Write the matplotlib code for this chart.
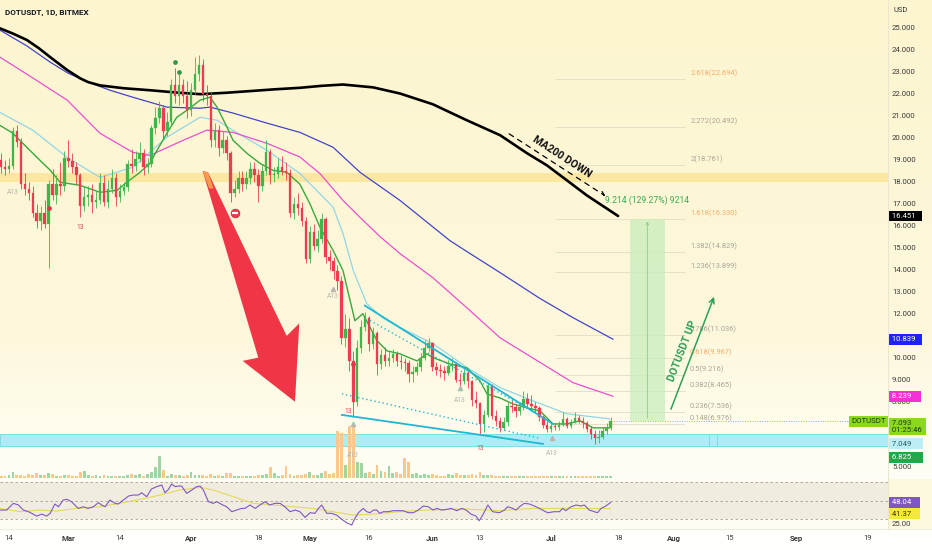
import numpy as np
import matplotlib
matplotlib.use("Agg")
import matplotlib.pyplot as plt
import matplotlib.transforms as mtrans
from matplotlib.patches import Polygon, Rectangle, FancyArrowPatch
from matplotlib.lines import Line2D
from matplotlib.colors import to_rgb

plt.rcParams['font.family'] = ['Roboto', 'DejaVu Sans']

W, H = 932, 550
start = np.datetime64('2022-02-12')

# daily candles, Feb 12 .. Jul 16 (open = previous close)
first_open = 19.0
closes = [18.7, 18.6, 18.75, 20.3, 19.8, 17.9, 17.7, 17.5, 16.6, 16.2,
          16.6, 16.1, 17.9, 17.4, 17.9, 17.8, 19.1, 18.95, 18.7, 18.3,
          16.9, 17.3, 17.4, 17.1, 17.2, 17.95, 17.1, 17.7, 18.2, 17.3,
          17.6, 17.75, 18.8, 18.75, 19.05, 19.3, 18.7, 18.8, 20.45, 20.9,
          21.35, 20.3, 20.75, 22.4, 21.9, 22.4, 21.9, 21.3, 22.2, 22.9,
          23.35, 22.0, 21.9, 19.9, 20.35, 19.55, 19.9, 19.3, 17.5, 17.7,
          18.2, 17.9, 18.2, 18.6, 18.3, 17.8, 18.5, 19.35, 18.3, 18.35,
          18.7, 18.5, 18.4, 16.6, 17.0, 16.8, 16.2, 14.5, 15.7, 15.1,
          15.4, 16.3, 14.6, 14.4, 13.95, 13.5, 10.9, 11.3, 9.85, 8.0,
          10.45, 11.4, 11.8, 10.6, 11.1, 9.7, 10.1, 9.85, 10.0, 10.15,
          9.85, 9.8, 9.75, 9.25, 9.35, 9.55, 10.0, 10.45, 10.65, 9.55,
          9.45, 9.4, 9.3, 9.6, 9.7, 9.0, 8.95, 9.3, 8.95, 8.05,
          7.95, 6.96, 7.4, 8.7, 7.35, 7.1, 6.8, 7.05, 7.8, 7.75,
          7.55, 7.75, 8.1, 7.9, 7.8, 7.7, 7.3, 6.95, 6.75, 6.9,
          6.85, 6.95, 7.2, 6.9, 7.05, 7.25, 7.1, 7.0, 6.75, 6.5,
          6.35, 6.4, 6.65, 6.8, 7.093]
highs = [19.3, 19.0, 19.1, 20.5, 20.6, 20.0, 18.4, 18.0, 17.8, 17.0,
         16.9, 17.2, 18.1, 18.6, 18.3, 18.9, 19.4, 19.9, 19.3, 18.9,
         18.4, 17.8, 17.8, 17.9, 17.6, 18.4, 18.3, 18.1, 18.6, 18.4,
         17.9, 18.0, 19.0, 19.5, 19.4, 19.8, 19.5, 19.1, 20.6, 21.4,
         21.7, 21.5, 21.2, 22.7, 23.2, 22.9, 22.7, 22.6, 22.5, 23.7,
         23.8, 23.6, 22.4, 22.1, 20.7, 20.6, 20.3, 20.1, 19.4, 18.1,
         18.5, 18.5, 18.5, 18.9, 18.9, 18.6, 18.8, 19.9, 19.5, 18.7,
         19.1, 19.2, 18.9, 18.6, 17.3, 17.5, 17.1, 16.4, 16.0, 16.1,
         15.8, 16.6, 16.4, 14.9, 14.6, 14.2, 13.7, 12.0, 11.8, 10.3,
         10.8, 11.7, 12.1, 11.9, 11.4, 11.2, 10.4, 10.5, 10.3, 10.4,
         10.3, 10.1, 10.0, 9.9, 9.6, 9.8, 10.2, 10.8, 10.9, 10.7,
         9.8, 9.7, 9.6, 9.9, 10.0, 9.8, 9.3, 9.5, 9.4, 9.0,
         8.5, 8.0, 7.6, 8.9, 8.8, 7.6, 7.3, 7.3, 8.0, 8.1,
         7.9, 8.0, 8.5, 8.4, 8.3, 8.0, 7.8, 7.4, 7.1, 7.1,
         7.0, 7.1, 7.5, 7.3, 7.2, 7.5, 7.4, 7.3, 7.1, 6.9,
         6.7, 6.7, 6.8, 7.0, 7.3]
lows = [18.4, 18.3, 18.4, 18.6, 19.6, 17.7, 17.4, 17.2, 16.4, 15.9,
        15.8, 15.9, 14.1, 17.2, 17.0, 17.4, 17.6, 18.7, 18.4, 17.9,
        16.4, 16.7, 16.9, 16.6, 16.8, 17.0, 16.9, 16.8, 17.5, 16.9,
        17.1, 17.4, 17.6, 18.4, 18.5, 18.9, 18.3, 18.4, 18.7, 20.2,
        20.7, 20.0, 20.1, 20.6, 21.6, 21.5, 21.6, 20.9, 21.0, 22.0,
        22.6, 21.7, 21.5, 19.6, 19.6, 19.2, 19.3, 19.0, 17.1, 17.3,
        17.5, 17.6, 17.7, 17.9, 18.0, 17.1, 17.6, 18.3, 17.9, 18.0,
        18.2, 18.3, 18.1, 16.4, 16.3, 16.5, 16.0, 14.3, 14.3, 14.9,
        14.8, 15.2, 14.3, 14.0, 13.6, 13.1, 10.6, 10.5, 9.4, 7.3,
        7.8, 10.2, 11.2, 10.3, 10.4, 9.2, 9.5, 9.6, 9.6, 9.8,
        9.6, 9.5, 9.4, 8.9, 8.9, 9.2, 9.4, 9.9, 10.3, 9.4,
        9.2, 9.1, 9.0, 9.2, 9.4, 8.9, 8.7, 8.8, 8.6, 7.8,
        7.7, 6.5, 6.6, 7.3, 7.2, 6.9, 6.6, 6.7, 6.9, 7.5,
        7.3, 7.4, 7.6, 7.7, 7.6, 7.5, 7.1, 6.8, 6.6, 6.6,
        6.7, 6.7, 6.9, 6.8, 6.8, 7.0, 7.0, 6.8, 6.6, 6.3,
        6.05, 6.1, 6.3, 6.5, 6.7]
volumes = [2, 2, 3, 6, 3, 3, 2, 4, 3, 5,
           3, 3, 5, 4, 2, 2, 3, 3, 2, 2,
           6, 7, 3, 2, 3, 2, 3, 2, 2, 2,
           2, 2, 3, 4, 3, 4, 2, 4, 6, 11,
           22, 8, 2, 4, 3, 3, 2, 3, 6, 3,
           3, 3, 2, 4, 2, 3, 2, 5, 5, 2,
           2, 2, 2, 2, 2, 3, 3, 4, 11, 5,
           2, 3, 12, 4, 2, 3, 3, 4, 6, 3,
           3, 5, 7, 4, 5, 47, 45, 13, 52, 54,
           16, 15, 5, 6, 4, 13, 7, 6, 12, 5,
           6, 4, 20, 16, 4, 5, 3, 4, 3, 4,
           3, 2, 2, 4, 3, 5, 3, 3, 3, 4,
           3, 6, 3, 3, 3, 2, 2, 2, 2, 2,
           2, 2, 2, 2, 2, 2, 2, 2, 2, 2,
           2, 2, 2, 2, 2, 2, 2, 2, 2, 2,
           2, 2, 2, 2, 2]

# moving averages (day offset, price)
ma200_day = [-0.3, 3.0, 6.5, 9.5, 12.4, 16.7, 20.0, 22.0, 25.0, 31.0, 37.6, 44.0, 50.3, 56.5, 62.9,
             69.0, 75.5, 81.0, 86.4, 94.0, 100.8, 109.1, 117.7, 126.1, 132.9, 137.9, 143.0,
             148.0, 155.9]
ma200_val = [25.0, 24.76, 24.47, 24.1, 23.69, 23.1, 22.72, 22.55, 22.4, 22.27, 22.18, 22.08, 22.0,
             22.06, 22.14, 22.22, 22.29, 22.38, 22.44, 22.31, 22.03, 21.54, 20.81, 20.13, 19.31,
             18.76, 18.07, 17.39, 16.451]
ma_blue_day = [-0.3, 6.5, 12.4, 17.0, 22.0, 27.5, 33.3, 41.9, 50.3, 52.8, 58.6, 67.2, 75.5, 83.9,
               90.7, 100.8, 113.4, 117.7, 126.1, 136.2, 144.5, 154.6]
ma_blue_val = [24.92, 24.2, 23.46, 22.95, 22.55, 22.18, 21.86, 21.41, 21.36, 21.41, 21.14, 20.68,
               20.26, 19.58, 18.44, 17.16, 15.33, 14.83, 13.87, 12.69, 11.82, 10.839]
ma_pink_day = [-0.3, 8.1, 16.7, 25.0, 33.3, 37.6, 46.0, 52.0, 58.6, 67.2, 75.5,
               80.6, 86.4, 90.7, 95.7, 100.8, 109.1, 117.7, 126.1, 136.2, 144.5, 154.6]
ma_pink_val = [23.69, 22.73, 21.73, 20.22, 19.35, 19.21, 19.9, 20.36, 20.26, 19.76, 19.14,
               18.38, 17.16, 16.39, 15.52, 14.74, 13.64, 12.27, 10.9, 9.78, 8.86, 8.239]
ma_cyan_day = [-0.3, 8.1, 16.7, 25.0, 33.3, 41.9, 50.3, 54.6, 58.6, 67.2, 75.5, 83.9,
               86.4, 89.0, 92.4, 96.5, 100.8, 109.1, 117.7, 126.1, 134.4, 143.0, 153.8]
ma_cyan_val = [21.17, 20.35, 19.12, 18.21, 18.67, 20.04, 20.95, 20.81, 20.35, 19.44, 18.39, 16.85,
               15.65, 13.96, 12.46, 11.8, 11.37, 10.64, 9.55, 8.63, 8.03, 7.44, 7.21]
trail_day = [-0.3, 3.0, 6.5, 9.8, 12.4, 14.9, 19.9, 25.0, 29.3, 31.8, 35.1, 37.6, 39.4,
             41.9, 44.4, 47.0, 50.3, 52.8, 54.6, 57.1, 58.6, 62.1, 65.4, 68.7, 72.2, 75.5,
             78.0, 80.6, 83.9, 86.4, 88.2, 89.4, 91.4, 95.0, 97.5, 100.8, 105.1, 107.6,
             109.1, 113.4, 117.7, 121.0, 122.8, 126.1, 129.3, 132.9, 136.2, 139.4, 143.0,
             146.3, 149.6, 153.8]
trail_val = [20.58, 20.22, 19.58, 18.99, 18.54, 17.99, 17.85, 17.53, 17.62, 17.99, 18.44, 18.85, 19.44,
             20.22, 20.95, 21.27, 21.73, 21.86, 21.4, 20.49, 19.9, 19.31, 18.85, 18.53, 18.44, 17.9,
             17.02, 15.93, 14.88, 13.96, 12.59, 11.68, 12.0, 10.77, 10.31, 10.17, 9.85, 10.17,
             10.0, 9.71, 9.53, 8.94, 8.34, 8.16, 7.89, 7.71, 7.57, 6.98, 6.98,
             7.12, 6.8, 6.8]

# RSI pane
rsi_day = [-0.3, 1.4, 3.1, 4.4, 5.6, 6.9, 8.1, 9.0, 10.3, 11.5,
           12.4, 13.6, 14.5, 15.7, 16.6, 17.8, 19.5, 20.8, 22.0, 23.3,
           24.6, 25.4, 26.3, 27.5, 28.8, 29.6, 30.9, 32.2, 33.4, 34.7,
           35.5, 36.8, 38.0, 39.3, 40.6, 41.4, 42.3, 43.1, 44.0, 44.8,
           45.6, 46.9, 48.2, 49.4, 50.3, 51.1, 52.4, 53.6, 54.5, 55.7,
           57.0, 58.3, 59.5, 60.8, 61.6, 62.9, 64.2, 65.4, 66.7, 67.9,
           69.2, 70.5, 71.7, 73.0, 74.3, 75.5, 76.8, 78.1, 79.3, 80.2,
           81.0, 82.3, 83.5, 84.8, 86.1, 87.3, 88.6, 89.4, 90.3, 91.5,
           92.4, 93.2, 94.1, 94.9, 95.7, 96.6, 97.8, 99.1, 100.4, 101.6,
           102.9, 104.2, 105.4, 106.7, 107.9, 109.2, 110.1, 111.3, 112.6, 113.8,
           115.1, 116.4, 117.5, 118.7, 120.0, 120.8, 121.7, 123.0, 124.2, 125.9,
           127.2, 128.0, 129.3, 130.1, 131.0, 132.2, 133.5, 135.2, 136.8, 138.1,
           139.8, 141.1, 141.9, 142.7, 144.0, 145.3, 146.5, 147.4, 148.6, 149.9,
           150.7, 151.6, 152.8, 154.0]
rsi_val = [39.8, 39.8, 47.1, 45.3, 39.8, 38.0, 35.4, 33.2, 35.4, 33.2,
           36.2, 46.4, 43.4, 50.7, 51.5, 48.9, 41.6, 43.4, 41.6, 43.4,
           47.8, 45.3, 43.4, 50.7, 47.1, 46.4, 50.7, 55.1, 56.2, 56.2,
           58.7, 54.4, 62.8, 65.3, 67.1, 58.7, 62.4, 68.2, 65.3, 66.0,
           66.0, 58.0, 61.7, 65.3, 66.0, 61.7, 48.9, 47.1, 48.9, 46.0,
           43.4, 38.0, 39.8, 41.6, 41.6, 45.3, 41.6, 45.3, 48.9, 45.3,
           47.1, 47.1, 43.4, 38.0, 39.8, 38.0, 31.8, 36.9, 36.2, 41.6,
           45.3, 36.2, 36.2, 34.3, 29.6, 26.0, 23.4, 30.7, 36.9, 41.6,
           38.0, 36.9, 39.8, 39.8, 36.2, 38.0, 38.0, 39.1, 39.1, 39.1,
           36.9, 36.9, 39.8, 44.2, 43.4, 39.8, 41.6, 39.8, 40.5, 41.6,
           39.1, 41.6, 39.8, 35.4, 33.2, 28.1, 34.3, 45.3, 38.0, 36.9,
           39.8, 43.4, 41.6, 39.8, 43.4, 47.1, 46.4, 43.4, 39.8, 36.9,
           38.0, 38.0, 41.6, 39.1, 43.4, 45.3, 44.2, 45.3, 39.8, 38.0,
           36.9, 41.6, 44.2, 48.04]
rsi_ma_day = [-0.3, 4.8, 9.8, 14.0, 19.1, 25.0, 30.0, 35.1, 40.2, 45.2, 50.3, 53.6, 58.7, 63.7,
              68.8, 73.8, 78.9, 83.9, 89.0, 94.1, 100.8, 107.5, 117.5, 125.9, 134.3, 142.7, 154.0]
rsi_ma_val = [41.6, 38.0, 39.8, 38.7, 41.6, 43.4, 47.1, 51.5, 56.2, 61.7, 64.6, 61.7, 54.4, 47.1,
              45.3, 43.4, 41.6, 38.0, 34.3, 35.4, 38.0, 39.8, 40.9, 39.1, 41.6, 41.6, 41.37]

# fibonacci extension
fib_ratios = ["2.618", "2.272", "2", "1.618", "1.382", "1.236", "0.786", "0.618", "0.5", "0.382", "0.236", "0.148"]
fib_prices = [22.694, 20.492, 18.761, 16.330, 14.829, 13.899, 11.036, 9.967, 9.216, 8.465, 7.536, 6.976]

# zones and drawings
yellow_zone = (17.98, 18.39)
cyan_zone = (5.97, 6.52)
measure_low, measure_high = 7.116, 16.330
measure_text = "9.214 (129.27%) 9214"
wedge_upper = ([91.9, 139.4], [12.37, 6.98])
wedge_lower = ([86.1, 136.9], [7.39, 6.07])
wedge_upper_dot = ([93.2, 135.4], [11.69, 7.44])
wedge_lower_dot = ([86.1, 135.7], [8.35, 6.34])
red_arrow_day = [50.94, 52.28, 72.16, 75.35, 74.26, 61.05, 64.99]
red_arrow_val = [18.50, 18.44, 10.99, 11.56, 7.99, 9.85, 10.00]

# labels shown on the price scale (others are covered by the value badges)
price_ticks = [25, 24, 23, 22, 21, 20, 19, 18, 17, 16, 15, 14, 13, 12, 10, 9, 8, 5]
date_ticks = ['2022-02-14', '2022-03-01', '2022-03-14', '2022-04-01', '2022-04-18', '2022-05-01',
              '2022-05-16', '2022-06-01', '2022-06-13', '2022-07-01', '2022-07-18', '2022-08-01',
              '2022-08-15', '2022-09-01', '2022-09-19']
date_labels = ['14', 'Mar', '14', 'Apr', '18', 'May', '16', 'Jun', '13', 'Jul', '18', 'Aug', '15', 'Sep', '19']


def frac(left, top, w, h):
    return [left / W, 1 - (top + h) / H, w / W, h / H]


fig = plt.figure(figsize=(W / 100, H / 100), dpi=100)
fig.patch.set_facecolor('#fffffb')

# background gradient behind the price pane and price scale
bg = fig.add_axes(frac(0, 0, W, 479), zorder=0)
c_top, c_mid, c_bot = (np.array(to_rgb(c)) for c in ('#fcf5cf', '#fdf8dc', '#fffef6'))
t = np.linspace(0, 1, 300)[:, None]
img = np.where(t < 0.7, c_top + (c_mid - c_top) * (t / 0.7), c_mid + (c_bot - c_mid) * ((t - 0.7) / 0.3))
bg.imshow(img[:, None, :], aspect='auto', extent=[0, 1, 0, 1])
bg.axis('off')

fig.patches.append(Rectangle((888 / W, 21 / H), 44 / W, 50 / H, transform=fig.transFigure,
                             fc='#fdf9de', ec='none', zorder=0))
fig.lines.append(Line2D([888 / W, 888 / W], [21 / H, 1], transform=fig.transFigure, color='#ebe6d0', lw=0.8))
fig.lines.append(Line2D([0, 1], [21 / H, 21 / H], transform=fig.transFigure, color='#ecebe4', lw=0.8))

ax = fig.add_axes(frac(0, 0, 888, 479), zorder=2)
ax.patch.set_visible(False)
ax.axis('off')
ax.set_xlim(-0.273, 224.1)
ax.set_ylim(4.47, 26.29)
yax = mtrans.blended_transform_factory(ax.transAxes, ax.transData)

n = len(closes)
x = np.arange(n)
c = np.array(closes)
o = np.array([first_open] + closes[:-1])
up = c >= o
col = np.where(up, '#3fb54a', '#ef3b50')

# zones
ax.axhspan(*yellow_zone, color='#fbe7a1', zorder=0.5, lw=0)
ax.axhspan(*cyan_zone, fc='#a9eef7', ec='#72d8e8', lw=0.6, zorder=0.6)
ax.vlines([178.9, 180.9], *cyan_zone, color='#78d9e8', lw=0.6, zorder=0.7)

# volume
vt = mtrans.blended_transform_factory(ax.transData, ax.transAxes)
vcol = np.where(up, '#9fd7a3', '#f9c98c')
ax.bar(x, np.array(volumes) / 479, width=0.72, bottom=1.5 / 479, color=vcol, transform=vt, zorder=1, lw=0)

# moving averages
ax.plot(ma_cyan_day, ma_cyan_val, color='#92d6e6', lw=0.9, zorder=2)
ax.plot(ma_pink_day, ma_pink_val, color='#ea4fcf', lw=0.9, zorder=2)
ax.plot(ma_blue_day, ma_blue_val, color='#4444cc', lw=0.9, zorder=2)
ax.plot(ma200_day, ma200_val, color='#000000', lw=1.9, zorder=2.2, solid_capstyle='round',
        solid_joinstyle='round')
ax.plot(trail_day, trail_val, color='#39a83c', lw=1.0, zorder=2.4)

# candles
ax.vlines(x, lows, highs, colors=col, lw=0.6, zorder=3)
ax.bar(x, np.maximum(np.abs(c - o), 0.05), width=0.62, bottom=np.minimum(o, c), color=col,
       edgecolor=col, lw=0.2, zorder=3.1)

# last price line
ax.hlines(closes[-1], n - 1, 224.1, colors='#86d41e', lw=0.7, linestyles=(0, (1, 1.5)), zorder=2)

# wedge lines
ax.plot(*wedge_upper, color='#1fb7d2', lw=1.3, zorder=3.5)
ax.plot(*wedge_lower, color='#1fb7d2', lw=1.3, zorder=3.5)
ax.plot(*wedge_upper_dot, color='#1fb7d2', lw=1.0, ls=(0, (1, 2)), zorder=3.5)
ax.plot(*wedge_lower_dot, color='#1fb7d2', lw=1.0, ls=(0, (1, 2)), zorder=3.5)

# red arrow
ax.add_patch(Polygon(np.column_stack([red_arrow_day, red_arrow_val]), closed=True,
                     fc='#f03646', ec='none', zorder=4))
ax.add_patch(Polygon([[50.94, 18.50], [52.28, 18.44], [53.7, 17.7], [52.6, 17.7]], closed=True,
                     fc='#f79a4e', ec='none', zorder=4.1))

# markers on candles
ax.plot(59.1, 16.58, 'o', ms=6.3, mfc='#e8394d', mec='#c92a3b', mew=0.5, zorder=5)
ax.plot(59.1, 16.58, marker='_', ms=3.8, mew=1.6, color='white', zorder=5.1)
ax.plot([43.9, 44.9], [23.46, 23.0], 'o', ms=2.4, color='#2f9a45', zorder=5)
ax.plot([12.1, 88.9], [16.83, 9.72], 'o', ms=2.4, color='#e0354a', zorder=5)
for d, p in [(19.9, 15.93), (87.7, 7.53), (121.0, 5.88)]:
    ax.text(d, p, '13', color='#e2405a', fontsize=4.8, ha='center', va='center', zorder=5)
for d, p in [(3.0, 17.53), (83.9, 12.78), (88.9, 5.52), (116.0, 8.03), (139.2, 5.61)]:
    ax.text(d, p, 'A13', color='#b8b6ae', fontsize=4.8, ha='center', va='center', zorder=5)
ax.plot([83.9, 88.9, 116.0, 139.2], [13.14, 6.98, 8.62, 6.34], '^', ms=3, color='#b7b7ad', zorder=5)

# fib extension
ax.hlines(fib_prices, 139.9, 172.8, colors='#e2dcc4', lw=0.6, zorder=1.5)
for r, p in zip(fib_ratios, fib_prices):
    fc = '#f4ad6e' if r in ('2.618', '1.618', '0.618') else '#a9a69c'
    ax.annotate(f"{r}({p:.3f})", (174.1, p), xytext=(0, 4), textcoords='offset points',
                fontsize=5.4, color=fc, ha='left', va='center', zorder=5)

# measurement box
ax.add_patch(Rectangle((158.9, measure_low), 8.8, measure_high - measure_low,
                       fc='#c9edbd', ec='none', alpha=0.75, zorder=1.6))
ax.annotate('', xy=(163.3, measure_high), xytext=(163.3, measure_low),
            arrowprops=dict(arrowstyle='->', color='#8fcc8a', lw=0.6, mutation_scale=5), zorder=1.7)
ax.text(163.3, 17.16, measure_text, color='#3aa954', fontsize=6.2, ha='center', va='center', zorder=5)

# MA200 DOWN
ax.add_patch(FancyArrowPatch((127.8, 20.26), (153.3, 17.29), arrowstyle='->', mutation_scale=7,
                             color='black', lw=0.9, linestyle=(0, (4, 4)), zorder=5))
ax.text(141.7, 19.13, 'MA200 DOWN', rotation=-33, rotation_mode='anchor', ha='center', va='center',
        fontsize=7.6, fontweight='bold', color='#111111', zorder=5)

# DOTUSDT UP
ax.add_patch(FancyArrowPatch((169.0, 7.53), (180.4, 12.89), arrowstyle='->', mutation_scale=9,
                             color='#2f9f57', lw=1.1, zorder=5))
ax.text(172.3, 10.30, 'DOTUSDT UP', rotation=69, rotation_mode='anchor', ha='center', va='center',
        fontsize=7.6, color='#2f9f57', fontweight='semibold', zorder=5)

# title
fig.text(5 / W, 1 - 12 / H, 'DOTUSDT, 1D, BITMEX', fontsize=5.9, fontweight='bold', color='#131722',
         va='center', ha='left')
fig.text(893 / W, 1 - 10 / H, 'USD', fontsize=5.4, color='#333333', va='center', ha='left')

# price scale
for p in price_ticks:
    ax.text(1.0045, p, f"{p:.3f}", transform=yax, fontsize=5.6, color='#3b3b3b', va='center',
            ha='left', clip_on=False, zorder=8)


def badge(p, txt, fc, tc, trans=yax, axis=ax, ha='left', xpos=1.0025):
    axis.text(xpos, p, txt, transform=trans, fontsize=5.6, color=tc, va='center', ha=ha, clip_on=False,
              zorder=10, linespacing=1.15,
              bbox=dict(boxstyle='square,pad=0.32', fc=fc, ec='none'))


badge(16.451, ' 16.451  ', '#000000', 'white')
badge(10.839, ' 10.839  ', '#1f22ff', 'white')
badge(8.239, ' 8.239    ', '#f52fd6', 'white')
badge(6.86, ' 7.093     \n 01:25:46 ', '#8bd91f', '#1f3b00')
badge(6.07, ' 7.049     ', '#bdeef5', '#1f5c68')
badge(5.47, ' 6.825     ', '#22a84a', 'white')
badge(7.11, 'DOTUSDT', '#8bd91f', '#1f3b00', ha='right', xpos=0.998)

# RSI pane
rax = fig.add_axes(frac(0, 479, 888, 50), zorder=2)
rax.set_facecolor('#fffdf3')
rax.set_xlim(-0.273, 224.1)
rax.set_ylim(19.1, 73.7)
rax.axhspan(30, 70, color='#f1ece0', lw=0, zorder=0)
for lv in (70, 50, 30):
    rax.axhline(lv, color='#a4a09a', lw=0.6, ls=(0, (3, 3)), zorder=1)
rax.plot(rsi_ma_day, rsi_ma_val, color='#e3da58', lw=0.8, zorder=2)
rax.plot(rsi_day, rsi_val, color='#7e57c2', lw=0.8, zorder=3)
for s in rax.spines.values():
    s.set_visible(False)
rax.set_yticks([])
tick_pos = (np.array(date_ticks, dtype='datetime64[D]') - start).astype(int)
rax.set_xticks(tick_pos)
rax.set_xticklabels(date_labels)
rax.tick_params(axis='x', length=0, pad=4.5, labelsize=5.6, labelcolor='#3b3b3b')
for lab in rax.get_xticklabels():
    if not lab.get_text().isdigit():
        lab.set_fontweight('bold')

ryax = mtrans.blended_transform_factory(rax.transAxes, rax.transData)
badge(48.04, ' 48.04   ', '#7e57c2', 'white', trans=ryax, axis=rax)
badge(35.5, ' 41.37   ', '#f4e83a', '#3a3500', trans=ryax, axis=rax)
rax.text(1.0045, 25.0, '25.00', transform=ryax, fontsize=5.6, color='#3b3b3b', va='center',
         ha='left', clip_on=False, zorder=8)

fig.savefig('out.png', dpi=100, facecolor=fig.get_facecolor())
